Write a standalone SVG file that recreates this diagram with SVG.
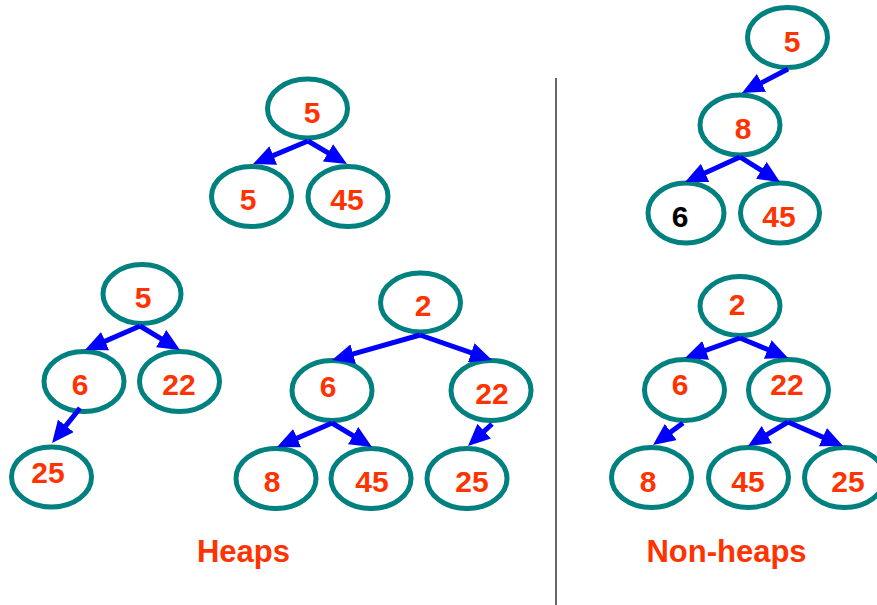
<svg xmlns="http://www.w3.org/2000/svg" width="877" height="605" viewBox="0 0 877 605">
  <style>
    .node ellipse { fill: #ffffff; stroke: #00807f; stroke-width: 5; }
    .node text { font-family: "Liberation Sans", Arial, sans-serif; font-weight: bold; font-size: 30px; fill: #ff3300; text-anchor: middle; }
    .node text.bad { fill: #000000; }
    .edges line { stroke: #0000ff; stroke-width: 5; marker-end: url(#head); }
    .title { font-family: "Liberation Sans", Arial, sans-serif; font-weight: bold; font-size: 31px; fill: #ff3300; text-anchor: middle; }
  </style>
  <defs>
    <marker id="head" markerUnits="userSpaceOnUse" viewBox="0 0 22 20" markerWidth="22" markerHeight="20" refX="8" refY="10" orient="auto">
      <path d="M0,0 L22,10 L0,20 z" fill="#0000ff"/>
    </marker>
  </defs>
  <rect width="877" height="605" fill="#ffffff"/>

  <!-- divider between the two groups -->
  <line x1="556" y1="78" x2="556" y2="605" stroke="#666666" stroke-width="2"/>

  <!-- heap A: 5 / 5 45 -->
  <g id="a-root" class="node"><ellipse cx="307.5" cy="108.5" rx="40" ry="29.5"/><text x="312" y="123">5</text></g>
  <g id="a-left" class="node"><ellipse cx="251.5" cy="196.5" rx="40" ry="30"/><text x="248" y="210">5</text></g>
  <g id="a-right" class="node"><ellipse cx="348" cy="196.5" rx="40" ry="30"/><text x="347" y="210">45</text></g>

  <!-- heap B: 5 / 6 22 / 25 -->
  <g id="b-root" class="node"><ellipse cx="142" cy="294" rx="39" ry="29.5"/><text x="143" y="308">5</text></g>
  <g id="b-6" class="node"><ellipse cx="84" cy="381.5" rx="40" ry="30"/><text x="80" y="395">6</text></g>
  <g id="b-22" class="node"><ellipse cx="179.5" cy="381.5" rx="40" ry="30"/><text x="179" y="395">22</text></g>
  <g id="b-25" class="node"><ellipse cx="51.5" cy="477" rx="40" ry="30"/><text x="48" y="483">25</text></g>

  <!-- heap C: 2 / 6 22 / 8 45 25 -->
  <g id="c-root" class="node"><ellipse cx="420.5" cy="302.5" rx="40" ry="29.5"/><text x="423" y="316">2</text></g>
  <g id="c-6" class="node"><ellipse cx="332" cy="390.5" rx="40" ry="30"/><text x="328" y="397">6</text></g>
  <g id="c-22" class="node"><ellipse cx="491" cy="390.5" rx="40" ry="30"/><text x="492" y="404">22</text></g>
  <g id="c-8" class="node"><ellipse cx="276" cy="478.5" rx="40" ry="30"/><text x="272" y="492">8</text></g>
  <g id="c-45" class="node"><ellipse cx="371" cy="478.5" rx="40" ry="30"/><text x="372" y="492">45</text></g>
  <g id="c-25" class="node"><ellipse cx="467" cy="478.5" rx="40" ry="30"/><text x="472" y="492">25</text></g>

  <!-- non-heap D: 5 / 8 / 6 45 -->
  <g id="d-root" class="node"><ellipse cx="787.5" cy="37.5" rx="40" ry="30"/><text x="792" y="52">5</text></g>
  <g id="d-8" class="node"><ellipse cx="740" cy="125" rx="40" ry="30"/><text x="743" y="139">8</text></g>
  <g id="d-6" class="node"><ellipse cx="686" cy="213" rx="38" ry="30"/><text class="bad" x="680" y="227">6</text></g>
  <g id="d-45" class="node"><ellipse cx="780" cy="213" rx="39.5" ry="30"/><text x="779" y="227">45</text></g>

  <!-- non-heap E: 2 / 6 22 / 8 45 25 -->
  <g id="e-root" class="node"><ellipse cx="740" cy="306" rx="40" ry="29.5"/><text x="737" y="315">2</text></g>
  <g id="e-6" class="node"><ellipse cx="684.5" cy="390" rx="40" ry="30.5"/><text x="680" y="395">6</text></g>
  <g id="e-22" class="node"><ellipse cx="788.5" cy="390" rx="40" ry="30.5"/><text x="787" y="395">22</text></g>
  <g id="e-8" class="node"><ellipse cx="651.5" cy="477.5" rx="40" ry="30"/><text x="648" y="492">8</text></g>
  <g id="e-45" class="node"><ellipse cx="748.5" cy="477.5" rx="40" ry="30"/><text x="748" y="492">45</text></g>
  <g id="e-25" class="node"><ellipse cx="844.5" cy="477.5" rx="40" ry="30"/><text x="848" y="492">25</text></g>

  <!-- parent-to-child connectors -->
  <g id="edges" class="edges">
    <line x1="308" y1="141" x2="265.9" y2="158.6"/>
    <line x1="308" y1="141" x2="334.9" y2="156.9"/>

    <line x1="140" y1="326" x2="97.8" y2="344.4"/>
    <line x1="140" y1="326" x2="168" y2="342.8"/>
    <line x1="80" y1="408" x2="60.8" y2="432.1"/>

    <line x1="420" y1="335" x2="345.5" y2="356.2"/>
    <line x1="420" y1="335" x2="478.8" y2="355.4"/>
    <line x1="332" y1="423" x2="289.8" y2="441.4"/>
    <line x1="332" y1="423" x2="360" y2="439.8"/>
    <line x1="492" y1="424" x2="478.3" y2="436.6"/>

    <line x1="788" y1="69" x2="754.4" y2="86.5"/>
    <line x1="740" y1="157" x2="697.8" y2="176.2"/>
    <line x1="740" y1="157" x2="768.1" y2="174.6"/>

    <line x1="740" y1="338" x2="698.2" y2="353.2"/>
    <line x1="740" y1="338" x2="775.1" y2="352.6"/>
    <line x1="683" y1="423" x2="664.3" y2="436.7"/>
    <line x1="788" y1="422" x2="760" y2="438.8"/>
    <line x1="788" y1="422" x2="830.2" y2="440.4"/>
  </g>

  <text class="title" x="243.5" y="562">Heaps</text>
  <text class="title" x="726.5" y="562">Non-heaps</text>
</svg>
